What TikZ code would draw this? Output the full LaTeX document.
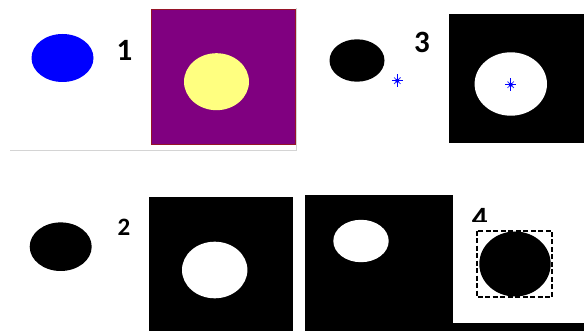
\documentclass[tikz,border=0pt]{standalone}
\usepackage{fontspec}
\setmainfont{Carlito}
\definecolor{mpurple}{RGB}{128,0,128}
\definecolor{mborder}{RGB}{150,20,40}
\definecolor{myellow}{RGB}{255,255,128}
\definecolor{framegray}{RGB}{212,212,212}
\begin{document}
\begin{tikzpicture}[x=1pt,y=-1pt,
  num/.style={inner sep=0pt, font=\fontsize{31}{31}\selectfont\bfseries},
  bluestar/.pic={
    \draw[blue, line width=1.2pt] (-5.5,0) -- (5.5,0) (0,-6.5) -- (0,6.5);
    \draw[blue!80, line width=0.8pt] (-3.2,-3.2) -- (3.2,3.2) (-3.2,3.2) -- (3.2,-3.2);
    \fill[blue] (0,0) circle [radius=2];
  }]
\useasboundingbox (0,0) rectangle (584,331);
% Panel 1
\draw[framegray, line width=1pt] (10,150.5) -- (296.5,150.5) -- (296.5,8);
\fill[blue] (62.5,58) ellipse [x radius=31, y radius=24];
\node[num] (n1) at (124.5,50) {1};
\fill[mpurple] (151,9) rectangle (295,144);
\draw[mborder, line width=0.6pt] (151,9) rectangle (295,144);
\fill[myellow] (216.5,81.7) ellipse [x radius=32.5, y radius=28.5];
% Panel 3
\fill[black] (357,60.5) ellipse [x radius=27.5, y radius=21.2];
\pic at (397.3,80.7) {bluestar};
\node[num] (n3) at (422,42) {3};
\fill[black] (448.7,14.3) rectangle (584,142.7);
\fill[white] (510.8,84) ellipse [x radius=36.2, y radius=31.7];
\pic at (510.7,84.7) {bluestar};
% Panel 2
\fill[black] (60.7,246.7) ellipse [x radius=31, y radius=24.3];
\node[num, font=\fontsize{25}{25}\selectfont\bfseries] (n2) at (124,227) {2};
\fill[black] (149.3,196.7) rectangle (292.7,331);
\fill[white] (214.7,270) ellipse [x radius=32.7, y radius=28.3];
% Panel 4
\fill[black] (305,195) rectangle (452.7,331);
\fill[black] (452.7,323.3) rectangle (584,331);
\fill[white] (361,241) ellipse [x radius=27.7, y radius=21.2];
\begin{scope}
  \clip (460,200) rectangle (500,221.5);
  \node[num] (n4) at (479.7,218.3) {4};
\end{scope}
\fill[black] (515,264) ellipse [x radius=35.7, y radius=32.5];
\draw[black, line width=2pt, dash pattern=on 5pt off 2.5pt] (476.7,230.7) rectangle (552,297.3);
\end{tikzpicture}
\end{document}
